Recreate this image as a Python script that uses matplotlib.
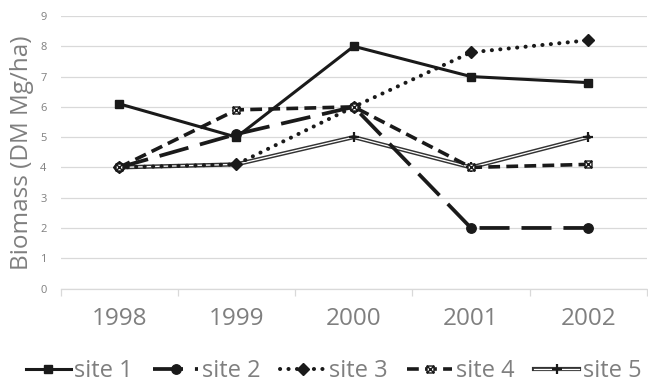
import matplotlib
matplotlib.use("Agg")
import matplotlib.pyplot as plt
import matplotlib.patheffects as pe
from matplotlib.path import Path
from matplotlib.legend_handler import HandlerTuple
import numpy as np

plt.rcParams['font.family'] = ['Open Sans', 'DejaVu Sans']
plt.rcParams['lines.scale_dashes'] = False

years = ['1998', '1999', '2000', '2001', '2002']
site1 = [6.1, 5.0, 8.0, 7.0, 6.8]
site2 = [4.0, 5.1, 6.0, 2.0, 2.0]
site3 = [4.0, 4.1, 6.0, 7.8, 8.2]
site4 = [4.0, 5.9, 6.0, 4.0, 4.1]
site5 = [4.0, 4.1, 5.0, 4.0, 5.0]

txt = '#7f7f7f'
grid = '#d9d9d9'
ink = '#1a1a1a'

# square with a cross inside, white filled
box_x = Path([(-1, -1), (1, -1), (1, 1), (-1, 1), (-1, -1),
              (-1, -1), (1, 1), (-1, 1), (1, -1)],
             [Path.MOVETO, Path.LINETO, Path.LINETO, Path.LINETO, Path.CLOSEPOLY,
              Path.MOVETO, Path.LINETO, Path.MOVETO, Path.LINETO])

fig = plt.figure(figsize=(6.48, 3.85), dpi=100)
ax = fig.add_axes([0.0934, 0.2506, 0.905, 0.7078])
x = np.arange(len(years))

l1, = ax.plot(x, site1, color=ink, lw=2.2, marker='s', ms=5.8, label='site 1', zorder=3)
l2, = ax.plot(x, site2, color=ink, lw=2.7, dashes=(21.6, 8.6), marker='o', ms=6.8,
              label='site 2', zorder=3)
l3, = ax.plot(x, site3, color=ink, lw=2.9, dashes=(0.1, 6.0), dash_capstyle='round',
              marker='D', ms=6.5, label='site 3', zorder=3)
l4, = ax.plot(x, site4, color=ink, lw=2.6, dashes=(8.5, 4.5), marker=box_x, ms=5,
              mfc='white', mec=ink, mew=1.0, label='site 4', zorder=3)

# site 5: hollow double line with plus markers
l5, = ax.plot(x, site5, color='white', lw=0.9, zorder=2.5,
              path_effects=[pe.Stroke(linewidth=3.0, foreground='#333333'), pe.Normal()])
m5, = ax.plot(x, site5, ls='none', marker='+', ms=7, mew=1.6, color=ink, zorder=2.6)

ax.set_xlim(-0.5, len(years) - 0.5)
ax.set_ylim(0, 9)
ax.set_yticks(range(10))
ax.set_xticks(x)
ax.set_xticklabels(years)
ax.set_xticks(np.arange(-0.5, len(years)), minor=True)

ax.grid(axis='y', color=grid, lw=0.9, zorder=0)
for s in ['top', 'right', 'left']:
    ax.spines[s].set_visible(False)
ax.spines['bottom'].set_color(grid)
ax.spines['bottom'].set_linewidth(0.9)

ax.tick_params(axis='y', length=0, pad=10, labelsize=8, labelcolor=txt)
ax.tick_params(axis='x', which='major', length=0, pad=13, labelsize=17.5, labelcolor=txt)
ax.tick_params(axis='x', which='minor', length=5, width=0.9, color=grid)

ax.set_ylabel('Biomass (DM Mg/ha)', fontsize=17.5, color=txt)
ax.yaxis.set_label_coords(-0.045, 0.5)

fig.legend([l1, l2, l3, l4, (l5, m5)], ['site 1', 'site 2', 'site 3', 'site 4', 'site 5'],
           handler_map={tuple: HandlerTuple(ndivide=1)},
           loc='lower center', bbox_to_anchor=(0.515, -0.05), ncol=5, frameon=False,
           fontsize=17, labelcolor=txt, handlelength=1.9, handletextpad=0.15,
           columnspacing=0.85)

fig.savefig('out.png', dpi=100)
